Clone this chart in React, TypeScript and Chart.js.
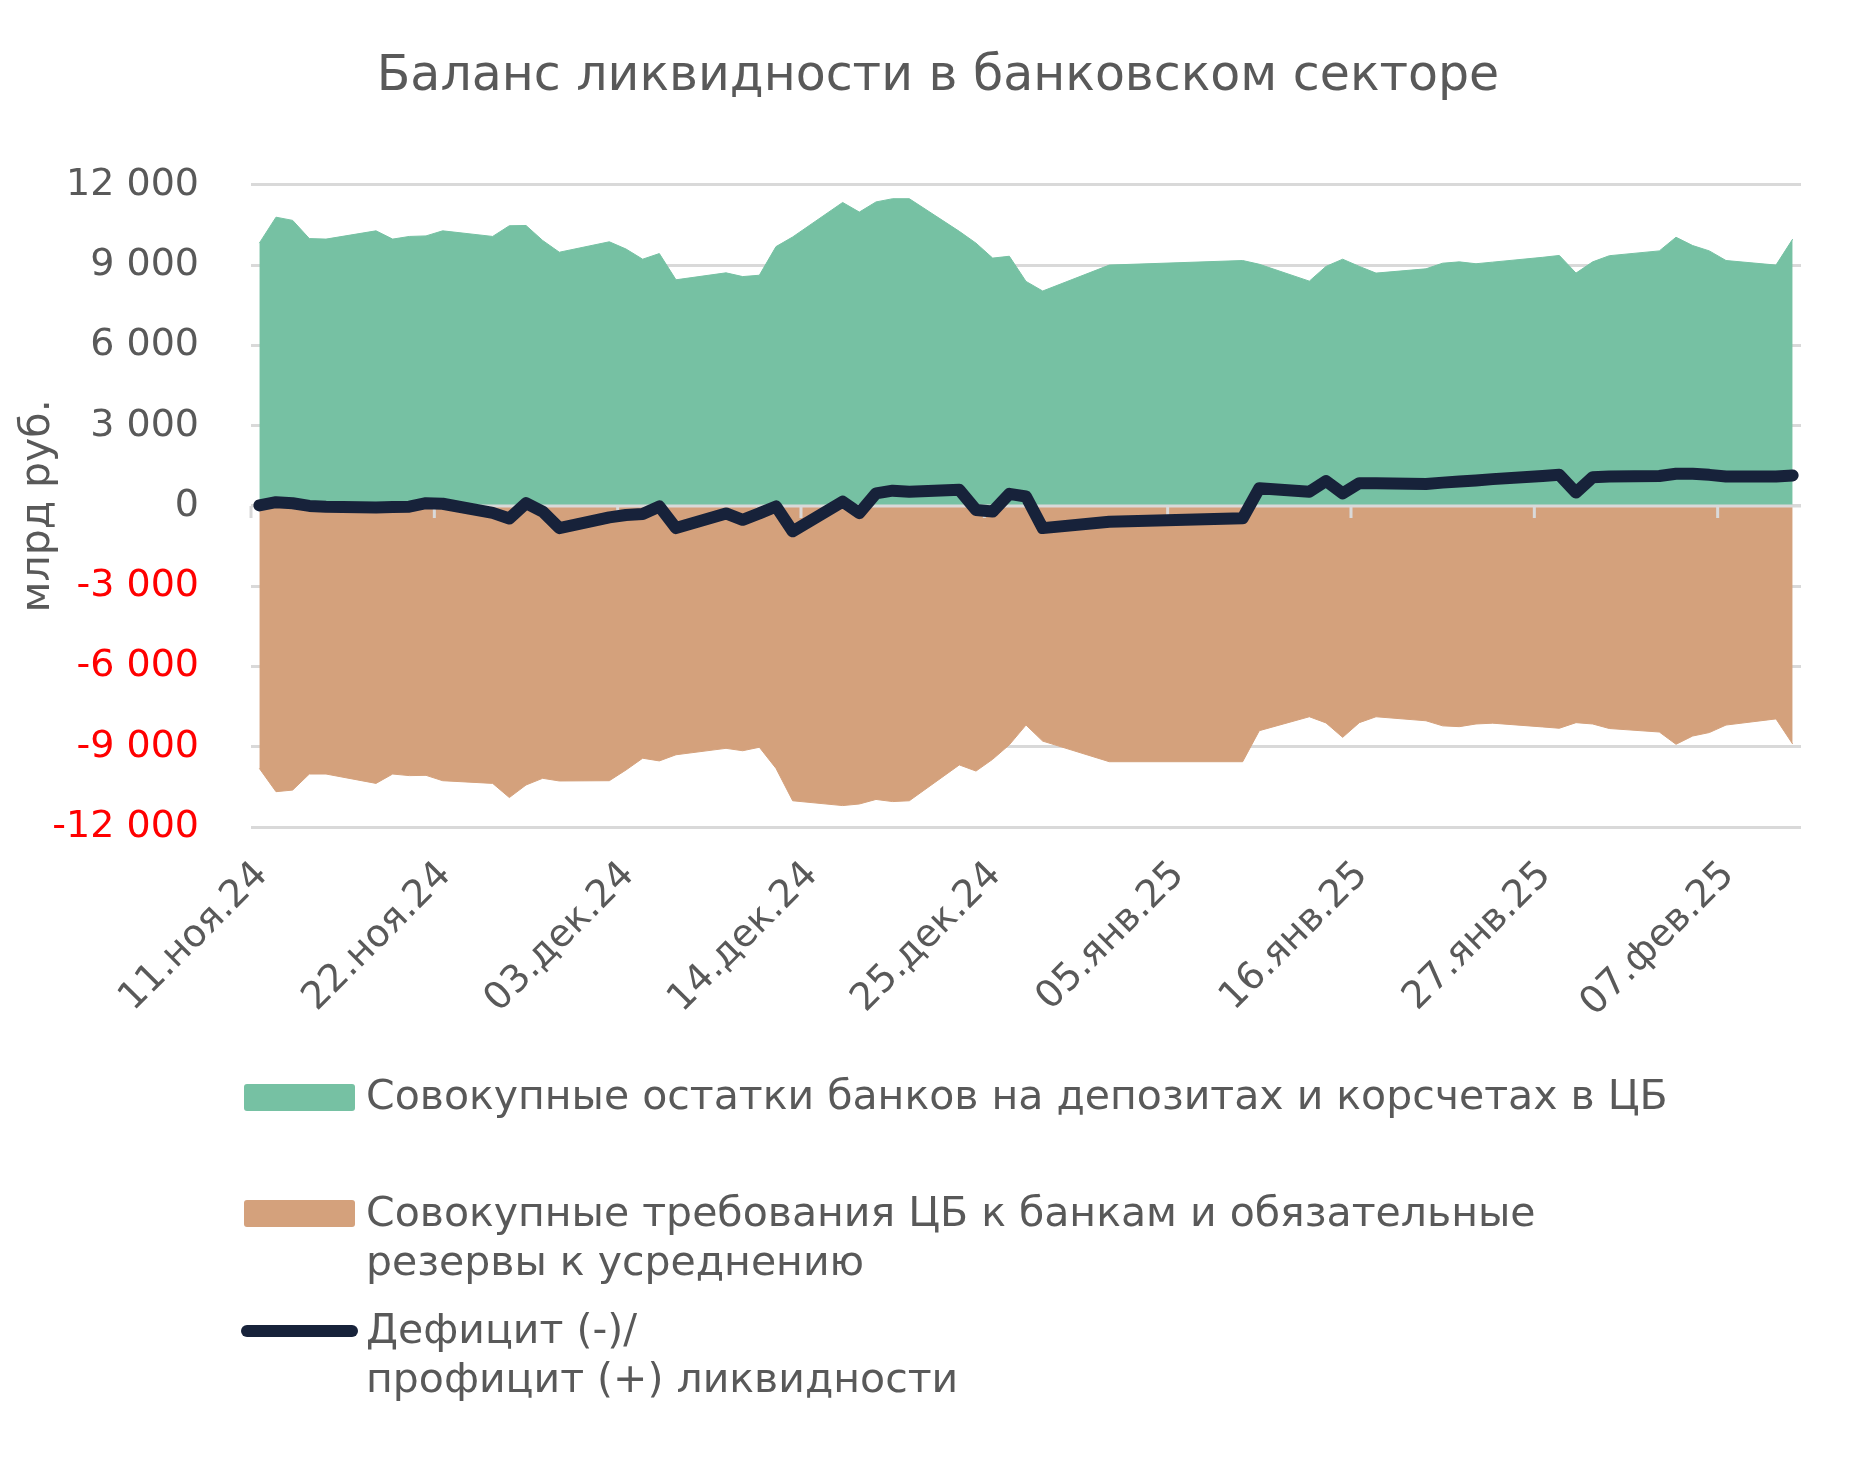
import React, { useEffect, useRef } from 'react';
import { Chart, registerables } from 'chart.js';

Chart.register(...registerables);

// ---------- data ----------
const dates = [
  '2024-11-11', '2024-11-12', '2024-11-13', '2024-11-14', '2024-11-15',
  '2024-11-18', '2024-11-19', '2024-11-20', '2024-11-21', '2024-11-22',
  '2024-11-25', '2024-11-26', '2024-11-27', '2024-11-28', '2024-11-29',
  '2024-12-02', '2024-12-03', '2024-12-04', '2024-12-05', '2024-12-06',
  '2024-12-09', '2024-12-10', '2024-12-11', '2024-12-12', '2024-12-13',
  '2024-12-16', '2024-12-17', '2024-12-18', '2024-12-19', '2024-12-20',
  '2024-12-23', '2024-12-24', '2024-12-25', '2024-12-26', '2024-12-27', '2024-12-28',
  '2025-01-01', '2025-01-09', '2025-01-10',
  '2025-01-13', '2025-01-14', '2025-01-15', '2025-01-16', '2025-01-17',
  '2025-01-20', '2025-01-21', '2025-01-22', '2025-01-23', '2025-01-24',
  '2025-01-27', '2025-01-28', '2025-01-29', '2025-01-30', '2025-01-31',
  '2025-02-03', '2025-02-04', '2025-02-05', '2025-02-06', '2025-02-07',
  '2025-02-10', '2025-02-11',
];

// Совокупные остатки банков на депозитах и корсчетах в ЦБ, млрд руб.
const deposits = [
  9820, 10790, 10670, 9990, 9970,
  10280, 9970, 10070, 10090, 10280,
  10070, 10470, 10480, 9920, 9480,
  9870, 9600, 9220, 9430, 8450,
  8710, 8570, 8620, 9690, 10050,
  11340, 10980, 11360, 11480, 11480,
  10260, 9820, 9260, 9330, 8390, 8030,
  9000, 9170, 9030,
  8400, 8950, 9220, 8950, 8700,
  8860, 9070, 9120, 9050, 9110,
  9290, 9360, 8700, 9120, 9350,
  9530, 10040, 9730, 9530, 9170,
  9000, 9970,
];

// Совокупные требования ЦБ к банкам и обязательные резервы к усреднению, млрд руб.
const claims = [
  -9810, -10680, -10620, -10020, -10020,
  -10370, -10020, -10080, -10070, -10270,
  -10370, -10900, -10430, -10180, -10280,
  -10270, -9870, -9430, -9530, -9300,
  -9060, -9150, -9020, -9810, -11020,
  -11200, -11140, -10970, -11050, -11020,
  -9680, -9910, -9470, -8930, -8190, -8790,
  -9560, -9560, -8400,
  -7880, -8110, -8650, -8100, -7880,
  -8030, -8220, -8250, -8150, -8120,
  -8260, -8310, -8100, -8150, -8320,
  -8450, -8910, -8600, -8470, -8190,
  -7960, -8900,
];

// Дефицит (-) / профицит (+) ликвидности, млрд руб.
const balance = [
  20, 140, 100, 0, -30,
  -60, -40, -30, 100, 80,
  -260, -470, 100, -210, -830,
  -430, -340, -300, -20, -830,
  -280, -520, -280, -20, -950,
  160, -270, 470, 570, 530,
  600, -150, -210, 450, 350, -830,
  -590, -460, 660,
  530, 930, 470, 850, 850,
  820, 870, 910, 950, 1000,
  1120, 1160, 500, 1070, 1100,
  1120, 1200, 1200, 1160, 1100,
  1100, 1140,
];

const tickDates = [
  '2024-11-11', '2024-11-22', '2024-12-03', '2024-12-14', '2024-12-25',
  '2025-01-05', '2025-01-16', '2025-01-27', '2025-02-07',
];
const tickLabels = [
  '11.ноя.24', '22.ноя.24', '03.дек.24', '14.дек.24', '25.дек.24',
  '05.янв.25', '16.янв.25', '27.янв.25', '07.фев.25',
];

const yMin = -12000;
const yMax = 12000;
const yStep = 3000;

const TITLE = 'Баланс ликвидности в банковском секторе';
const Y_TITLE = 'млрд руб.';
const seriesNames = [
  ['Совокупные остатки банков на депозитах и корсчетах в ЦБ'],
  ['Совокупные требования ЦБ к банкам и обязательные', 'резервы к усреднению'],
  ['Дефицит (-)/', 'профицит (+) ликвидности'],
];

// ---------- styles ----------
const W = 1876;
const H = 1463;
const FONT = "'DejaVu Sans', sans-serif";
const TEXT = '#595959';
const RED = '#FF0000';
const GRID = '#D9D9D9';
const GREEN = '#76C1A3';
const ORANGE = '#D4A17C';
const NAVY = '#17223A';

const START = Date.UTC(2024, 10, 11);
const DAY = 86400000;
const dayOf = (iso: string) => {
  const [y, m, d] = iso.split('-').map(Number);
  return Math.round((Date.UTC(y, m - 1, d) - START) / DAY);
};
const fmt = (v: number) =>
  (v < 0 ? '-' : '') + String(Math.abs(v)).replace(/\B(?=(\d{3})+(?!\d))/g, ' ');

export default function App() {
  const ref = useRef<HTMLCanvasElement>(null);

  useEffect(() => {
    const canvas = ref.current;
    if (!canvas) return;
    Chart.defaults.font.family = FONT;
    const toPts = (vals: number[]) => dates.map((d, i) => ({ x: dayOf(d) + 0.5, y: vals[i] }));
    const tickDays = tickDates.map(dayOf);
    const xMax = dayOf(dates[dates.length - 1]) + 1;

    const zeroLine = {
      id: 'zeroLine',
      beforeDatasetDraw(chart: any, args: any) {
        if (args.index !== 2) return;
        const { ctx, chartArea, scales } = chart;
        const y0 = scales.y.getPixelForValue(0);
        ctx.save();
        ctx.strokeStyle = GRID;
        ctx.lineWidth = 3;
        ctx.beginPath();
        ctx.moveTo(chartArea.left, y0);
        ctx.lineTo(chartArea.right, y0);
        tickDays.forEach((d) => {
          const x = scales.x.getPixelForValue(d);
          ctx.moveTo(x, y0);
          ctx.lineTo(x, y0 + 12);
        });
        ctx.stroke();
        ctx.restore();
      },
    };

    const chart = new Chart(canvas, {
      type: 'line',
      data: {
        datasets: [
          {
            label: seriesNames[0].join(' '),
            data: toPts(deposits),
            backgroundColor: GREEN,
            borderColor: GREEN,
            borderWidth: 1,
            fill: 'origin',
            pointRadius: 0,
            tension: 0,
            order: 2,
          },
          {
            label: seriesNames[1].join(' '),
            data: toPts(claims),
            backgroundColor: ORANGE,
            borderColor: ORANGE,
            borderWidth: 1,
            fill: 'origin',
            pointRadius: 0,
            tension: 0,
            order: 1,
          },
          {
            label: seriesNames[2].join(' '),
            data: toPts(balance),
            borderColor: NAVY,
            borderWidth: 12,
            borderCapStyle: 'round',
            borderJoinStyle: 'round',
            fill: false,
            pointRadius: 0,
            tension: 0,
            order: 0,
          },
        ],
      },
      options: {
        responsive: false,
        animation: false,
        devicePixelRatio: 1,
        layout: { padding: 0 },
        plugins: {
          legend: { display: false },
          tooltip: { enabled: false },
          title: {
            display: true,
            text: TITLE,
            color: TEXT,
            font: { size: 49, weight: 'normal', family: FONT },
            padding: { top: 48, bottom: 78 },
          },
        },
        scales: {
          x: {
            type: 'linear',
            min: 0,
            max: xMax,
            grid: { display: false, drawTicks: false },
            border: { display: false },
            afterBuildTicks: (s: any) => {
              s.ticks = tickDays.map((v) => ({ value: v }));
            },
            afterFit: (s: any) => {
              s.height = H - 827;
            },
            ticks: {
              autoSkip: false,
              minRotation: 45,
              maxRotation: 45,
              padding: 26,
              labelOffset: 11,
              color: TEXT,
              font: { size: 38, family: FONT },
              callback: (v: any) => {
                const i = tickDays.indexOf(Number(v));
                return i >= 0 ? tickLabels[i] : '';
              },
            },
          },
          y: {
            min: yMin,
            max: yMax,
            afterFit: (s: any) => {
              s.width = 251;
            },
            grid: { color: GRID, lineWidth: 3, drawTicks: false },
            border: { display: false },
            ticks: {
              stepSize: yStep,
              padding: 52,
              color: (c: any) => (c.tick && c.tick.value < 0 ? RED : TEXT),
              font: { size: 38, family: FONT },
              callback: (v: any) => fmt(Number(v)),
            },
            title: {
              display: true,
              text: Y_TITLE,
              color: TEXT,
              font: { size: 41, family: FONT },
              padding: { top: 14, bottom: 0 },
            },
          },
          yRight: {
            position: 'right',
            display: true,
            afterFit: (s: any) => {
              s.width = W - 1801;
            },
            grid: { display: false, drawTicks: false },
            border: { display: false },
            ticks: { display: false },
          },
        },
      },
      plugins: [zeroLine],
    } as any);

    return () => chart.destroy();
  }, []);

  const legendText: React.CSSProperties = {
    position: 'absolute',
    left: 366,
    fontFamily: FONT,
    fontSize: 41,
    lineHeight: '49px',
    color: TEXT,
    whiteSpace: 'pre',
  };

  return (
    <div style={{ position: 'absolute', left: 0, top: 0, width: W, height: H, background: '#fff' }}>
      <canvas ref={ref} width={W} height={H} style={{ width: W, height: H, display: 'block' }} />
      <div style={{ position: 'absolute', left: 244, top: 1084, width: 111, height: 27, background: GREEN, borderRadius: 3 }} />
      <div style={{ ...legendText, top: 1071 }}>{seriesNames[0].join('\n')}</div>
      <div style={{ position: 'absolute', left: 244, top: 1200, width: 111, height: 27, background: ORANGE, borderRadius: 3 }} />
      <div style={{ ...legendText, top: 1188 }}>{seriesNames[1].join('\n')}</div>
      <div style={{ position: 'absolute', left: 241, top: 1325, width: 117, height: 12, background: NAVY, borderRadius: 6 }} />
      <div style={{ ...legendText, top: 1305 }}>{seriesNames[2].join('\n')}</div>
    </div>
  );
}
